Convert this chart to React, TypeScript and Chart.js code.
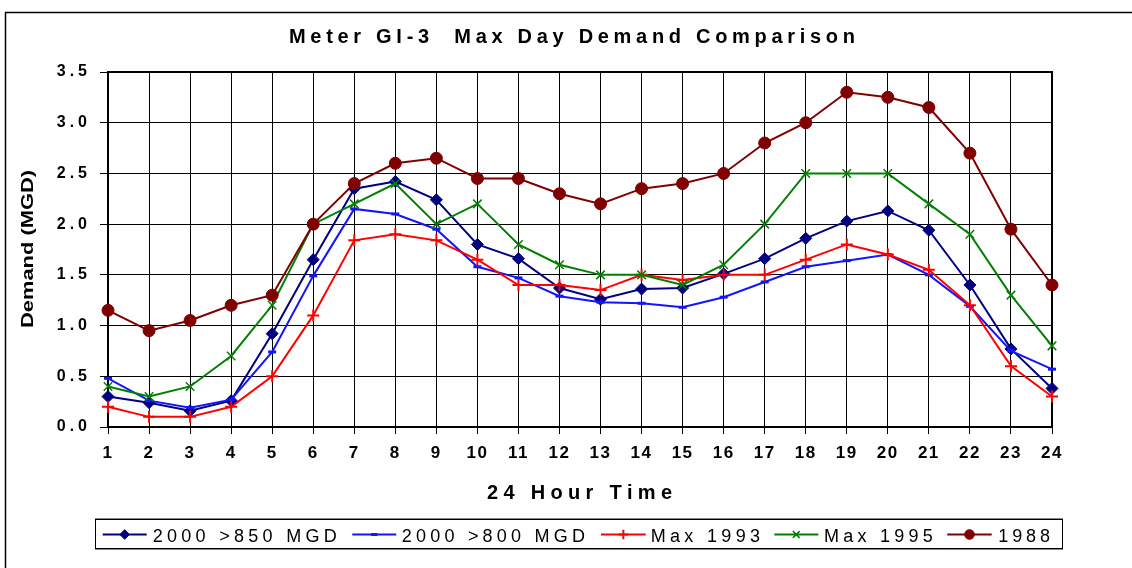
import React, { useEffect, useRef } from 'react';
import { Chart, registerables } from 'chart.js';
import { drawPoint } from 'chart.js/helpers';

Chart.register(...registerables);

const FONT = "'Liberation Sans', Arial, Helvetica, sans-serif";

const hours = ['1', '2', '3', '4', '5', '6', '7', '8', '9', '10', '11', '12', '13', '14', '15', '16', '17', '18', '19', '20', '21', '22', '23', '24'];

const demand850 = [0.30, 0.24, 0.16, 0.26, 0.92, 1.65, 2.35, 2.42, 2.24, 1.80, 1.66, 1.37, 1.26, 1.36, 1.37, 1.51, 1.66, 1.86, 2.03, 2.13, 1.94, 1.40, 0.77, 0.38];
const demand800 = [0.48, 0.26, 0.19, 0.27, 0.74, 1.49, 2.15, 2.10, 1.95, 1.58, 1.47, 1.29, 1.23, 1.22, 1.18, 1.28, 1.43, 1.58, 1.64, 1.70, 1.50, 1.19, 0.75, 0.57];
const max1993 = [0.20, 0.10, 0.10, 0.20, 0.50, 1.10, 1.84, 1.90, 1.84, 1.65, 1.40, 1.40, 1.35, 1.50, 1.45, 1.50, 1.50, 1.65, 1.80, 1.70, 1.55, 1.20, 0.60, 0.30];
const max1995 = [0.40, 0.30, 0.40, 0.70, 1.20, 2.00, 2.20, 2.40, 2.00, 2.20, 1.80, 1.60, 1.50, 1.50, 1.40, 1.60, 2.00, 2.50, 2.50, 2.50, 2.20, 1.90, 1.30, 0.80];
const year1988 = [1.15, 0.95, 1.05, 1.20, 1.30, 2.00, 2.40, 2.60, 2.65, 2.45, 2.45, 2.30, 2.20, 2.35, 2.40, 2.50, 2.80, 3.00, 3.30, 3.25, 3.15, 2.70, 1.95, 1.40];

const seriesNames = ['2000 >850 MGD', '2000 >800 MGD', 'Max 1993', 'Max 1995', '1988'];
const seriesValues = [demand850, demand800, max1993, max1995, year1988];
const seriesColors = ['#000080', '#1414ff', '#ff0000', '#008000', '#800000'];
const seriesStyles = ['rectRot', 'line', 'cross', 'crossRot', 'circle'];
const seriesRadius = [6, 4, 6, 6, 6];
const seriesPointWidth = [1, 3, 2, 1.5, 1];

const chartTitle = 'Meter GI-3  Max Day Demand Comparison';
const xTitle = '24 Hour Time';
const yTitle = 'Demand (MGD)';

// legend layout (sample line start/end, text left, text width)
const legendLines = [[102.7, 146.7], [352.3, 396.3], [601, 645.7], [774.3, 818.3], [947.3, 991.7]];
const legendTextX = [152.7, 401.7, 650.7, 824, 998.3];
const legendTextW = [184, 183.3, 109.3, 108.7, 51.7];

function drawSpaced(ctx: CanvasRenderingContext2D, text: string, x: number, y: number, target: number) {
  try { (ctx as any).letterSpacing = '0px'; } catch (e) {}
  const chars = Array.from(text);
  const widths = chars.map((c) => ctx.measureText(c).width);
  const natural = widths.reduce((a, b) => a + b, 0);
  const s = chars.length > 1 ? (target - natural) / (chars.length - 1) : 0;
  let cx = x;
  ctx.textAlign = 'left';
  chars.forEach((c, i) => {
    ctx.fillText(c, cx, y);
    cx += widths[i] + s;
  });
}

function drawCondensed(ctx: CanvasRenderingContext2D, text: string, x: number, y: number, target: number) {
  try { (ctx as any).letterSpacing = '0px'; } catch (e) {}
  const w = ctx.measureText(text).width;
  ctx.save();
  ctx.translate(x, y);
  ctx.scale(target / w, 1);
  ctx.textAlign = 'left';
  ctx.fillText(text, 0, 0);
  ctx.restore();
}

const decorPlugin = {
  id: 'decor',
  beforeDatasetsDraw(chart: any) {
    const { ctx, chartArea } = chart;
    ctx.save();
    ctx.strokeStyle = '#000';
    ctx.lineWidth = 2;
    ctx.strokeRect(chartArea.left, chartArea.top, chartArea.right - chartArea.left, chartArea.bottom - chartArea.top);
    ctx.restore();
  },
  afterDraw(chart: any) {
    const ctx: CanvasRenderingContext2D = chart.ctx;
    ctx.save();
    // outer frame
    ctx.strokeStyle = '#000';
    ctx.lineWidth = 1.5;
    ctx.beginPath();
    ctx.moveTo(5.5, 568);
    ctx.lineTo(5.5, 12.5);
    ctx.lineTo(1132, 12.5);
    ctx.stroke();

    ctx.fillStyle = '#000';
    ctx.textBaseline = 'alphabetic';
    // title
    ctx.font = `bold 20px ${FONT}`;
    drawSpaced(ctx, chartTitle, 289, 42.7, 566);
    // x title
    ctx.font = `bold 20px ${FONT}`;
    drawSpaced(ctx, xTitle, 487, 499, 185);
    // y title
    ctx.save();
    ctx.translate(32.5, 249);
    ctx.rotate(-Math.PI / 2);
    ctx.font = `bold 17px ${FONT}`;
    drawCondensed(ctx, yTitle, -79, 0, 158);
    ctx.restore();

    // legend box
    ctx.fillStyle = '#fff';
    ctx.fillRect(95.5, 519.5, 967, 29);
    ctx.strokeStyle = '#888';
    ctx.lineWidth = 2;
    ctx.beginPath();
    ctx.moveTo(95, 519);
    ctx.lineTo(1063, 519);
    ctx.moveTo(95, 549);
    ctx.lineTo(1063, 549);
    ctx.stroke();
    ctx.strokeStyle = '#000';
    ctx.lineWidth = 1;
    ctx.strokeRect(95.5, 519.5, 967, 29);

    const ly = 534.5;
    for (let i = 0; i < seriesNames.length; i++) {
      const [x0, x1] = legendLines[i];
      ctx.strokeStyle = seriesColors[i];
      ctx.fillStyle = seriesColors[i];
      ctx.lineWidth = 2;
      ctx.beginPath();
      ctx.moveTo(x0, ly);
      ctx.lineTo(x1, ly);
      ctx.stroke();
      ctx.lineWidth = seriesPointWidth[i];
      drawPoint(ctx, {
        pointStyle: seriesStyles[i] as any,
        rotation: 0,
        radius: seriesRadius[i] * 0.8,
        borderWidth: seriesPointWidth[i],
      }, (x0 + x1) / 2, ly);
      ctx.fillStyle = '#000';
      ctx.font = `18px ${FONT}`;
      drawSpaced(ctx, seriesNames[i], legendTextX[i], 541.7, legendTextW[i]);
    }
    ctx.restore();
  },
};

export default function App() {
  const ref = useRef<HTMLCanvasElement | null>(null);
  useEffect(() => {
    if (!ref.current) return;
    const datasets = seriesNames.map((name, i) => ({
      label: name,
      data: seriesValues[i],
      borderColor: seriesColors[i],
      backgroundColor: seriesColors[i],
      borderWidth: 2,
      pointStyle: seriesStyles[i] as any,
      pointRadius: seriesRadius[i],
      pointBorderWidth: seriesPointWidth[i],
      pointBorderColor: seriesColors[i],
      pointBackgroundColor: seriesColors[i],
      fill: false,
      tension: 0,
      order: seriesNames.length - i,
    }));
    const chart = new Chart(ref.current, {
      type: 'line',
      data: { labels: hours, datasets },
      options: {
        animation: false,
        responsive: false,
        devicePixelRatio: 1,
        layout: { padding: { left: 0, top: 72, right: 80, bottom: 0 } },
        plugins: { legend: { display: false }, title: { display: false }, tooltip: { enabled: false } },
        scales: {
          x: {
            type: 'category',
            offset: false,
            border: { display: false },
            grid: { color: '#000', lineWidth: 1, drawTicks: true, tickLength: 7, tickColor: '#000' },
            ticks: {
              autoSkip: false,
              maxRotation: 0,
              color: '#000',
              padding: 9,
              font: { family: FONT, size: 17, weight: 'bold' },
            },
            afterFit: (s: any) => { s.height = 141; },
          },
          y: {
            min: 0,
            max: 3.5,
            border: { display: false },
            grid: { color: '#000', lineWidth: 1, drawTicks: true, tickLength: 8, tickColor: '#000' },
            ticks: {
              stepSize: 0.5,
              color: '#000',
              padding: 9,
              font: { family: FONT, size: 16, weight: 'bold' },
              callback: (v: any) => Number(v).toFixed(1),
            },
            afterFit: (s: any) => { s.width = 108; },
          },
        },
      },
      plugins: [decorPlugin],
    });
    const ctx = chart.ctx as any;
    const wrap = (scale: any, sp: string) => {
      const orig = scale.drawLabels.bind(scale);
      scale.drawLabels = (area: any) => {
        ctx.save();
        try { ctx.letterSpacing = sp; } catch (e) {}
        orig(area);
        ctx.restore();
      };
    };
    wrap(chart.scales.x, '1.5px');
    wrap(chart.scales.y, '4px');
    chart.draw();
    return () => chart.destroy();
  }, []);
  return (
    <div style={{ position: 'fixed', left: 0, top: 0, width: 1132, height: 568, background: '#fff' }}>
      <canvas ref={ref} width={1132} height={568} style={{ display: 'block', width: 1132, height: 568 }} />
    </div>
  );
}
